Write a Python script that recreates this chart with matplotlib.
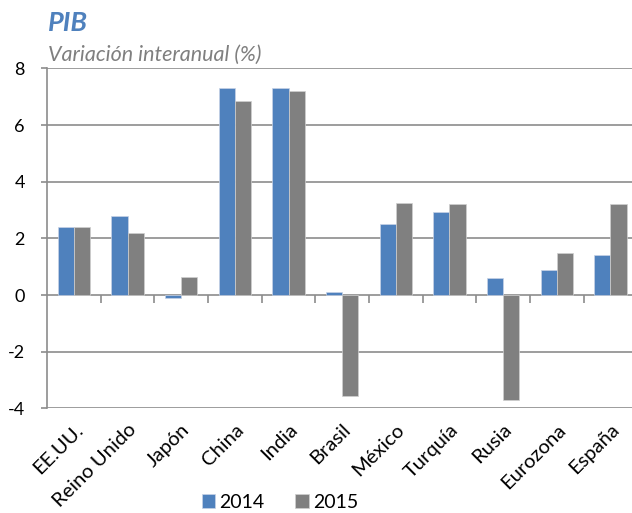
import matplotlib
matplotlib.use('Agg')
import matplotlib.pyplot as plt
import numpy as np

plt.rcParams['font.family'] = ['Lato', 'DejaVu Sans']
plt.rcParams['axes.unicode_minus'] = False

paises = ['EE.UU.', 'Reino Unido', 'Japón', 'China', 'India', 'Brasil',
          'México', 'Turquía', 'Rusia', 'Eurozona', 'España']
pib_2014 = [2.4, 2.8, -0.1, 7.3, 7.3, 0.1, 2.5, 2.95, 0.6, 0.9, 1.4]
pib_2015 = [2.4, 2.2, 0.65, 6.85, 7.2, -3.55, 3.25, 3.2, -3.7, 1.5, 3.2]
anios = ['2014', '2015']
yticks = [-4, -2, 0, 2, 4, 6, 8]

azul = '#4f81bd'
gris = '#808080'
linea = '#8c8c8c'

fig = plt.figure(figsize=(6.32, 5.13), dpi=100)
ax = fig.add_axes([0.0744, 0.204, 0.934, 0.6625])

x = np.arange(len(paises))
w = 0.3
ax.bar(x - w/2, pib_2014, w, color=azul, edgecolor='#c8d3e6', lw=0.5, label=anios[0], zorder=3)
ax.bar(x + w/2, pib_2015, w, color=gris, edgecolor='#cfcfcf', lw=0.5, label=anios[1], zorder=3)

ax.set_xlim(-0.5, len(paises) - 0.5)
ax.set_ylim(-4, 8)
ax.set_yticks(yticks)
ax.set_yticklabels([str(v) for v in yticks])
ax.yaxis.grid(True, color=linea, lw=1.2, zorder=1)
ax.set_axisbelow(True)

for s in ['top', 'right', 'bottom']:
    ax.spines[s].set_visible(False)
ax.spines['left'].set_color(linea)
ax.spines['left'].set_linewidth(1.2)
ax.tick_params(axis='y', length=4, width=1.2, color=linea, labelsize=13, pad=12)

# marcas de categoría sobre la línea del cero
ax.vlines(np.arange(0.5, len(paises)), 0, -0.27, color=linea, lw=1.2, zorder=2)

ax.set_xticks(x)
ax.set_xticklabels(paises, rotation=45, ha='right', va='top', rotation_mode='anchor')
ax.tick_params(axis='x', length=0, labelsize=14.5, pad=9)

fig.text(0.076, 0.956, 'PIB', fontsize=19.5, fontweight='bold', fontstyle='italic',
         color=azul, va='center', ha='left')
fig.text(0.076, 0.893, 'Variación interanual (%)', fontsize=15.5, fontstyle='italic',
         color='#7f7f7f', va='center', ha='left')

fig.legend(loc='center', bbox_to_anchor=(0.443, 0.021), ncol=2, frameon=False,
           fontsize=14, handlelength=0.7, handleheight=0.7, handletextpad=0.2,
           columnspacing=1.6, borderaxespad=0)

fig.savefig('out.png', dpi=100)
